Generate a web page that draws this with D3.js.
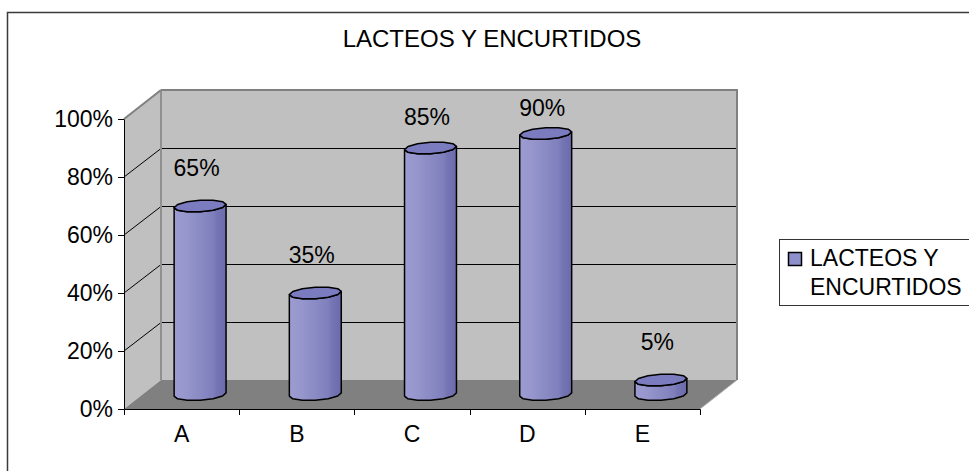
<!DOCTYPE html>
<html>
<head>
<meta charset="utf-8">
<script src="https://cdn.jsdelivr.net/npm/d3@7"></script>
<style>
  html, body { margin: 0; padding: 0; background: #fff; }
  svg { display: block; }
  text { font-family: Arial, "Liberation Sans", sans-serif; fill: #000; }
</style>
</head>
<body>
<svg id="chart" width="969" height="471"></svg>
<script>
// ---- data ----
const categories = ["A", "B", "C", "D", "E"];
const values = [0.65, 0.35, 0.85, 0.90, 0.05];
const yTicks = [0, 0.2, 0.4, 0.6, 0.8, 1.0];
const chartTitle = "LACTEOS Y ENCURTIDOS";
const seriesName = ["LACTEOS Y", "ENCURTIDOS"];

// ---- setup ----
const W = 969, H = 471;
const svg = d3.select("#chart");
const pct = d3.format(".0%");
const FONT = 23;

// front plane of the 3-D box, plus the depth offset of the back wall
const x = d3.scaleBand().domain(categories).range([124, 700]);
const y = d3.scaleLinear().domain([0, 1]).range([409, 119]);
const depth = { dx: 37, dy: -29 };
const mid = { dx: depth.dx / 2, dy: depth.dy / 2 };

const x0 = x.range()[0], x1 = x.range()[1];
const yb = y(0), yt = y(1);

// outer chart frame
svg.append("rect")
  .attr("x", 7.5).attr("y", 12.5)
  .attr("width", W).attr("height", H)
  .attr("fill", "#fff").attr("stroke", "#3a3a3a").attr("stroke-width", 1.5);

// title
svg.append("text")
  .attr("x", 492).attr("y", 47)
  .attr("text-anchor", "middle")
  .attr("font-size", 24)
  .text(chartTitle);

// ---- walls and floor ----
const walls = svg.append("g");
const pts = a => a.map(p => p.join(",")).join(" ");

// back wall
walls.append("polygon")
  .attr("points", pts([
    [x0 + depth.dx, yt + depth.dy], [x1 + depth.dx, yt + depth.dy],
    [x1 + depth.dx, yb + depth.dy], [x0 + depth.dx, yb + depth.dy]]))
  .attr("fill", "#c0c0c0");
// side wall
walls.append("polygon")
  .attr("points", pts([
    [x0, yt], [x0 + depth.dx, yt + depth.dy],
    [x0 + depth.dx, yb + depth.dy], [x0, yb]]))
  .attr("fill", "#c0c0c0");
// floor
walls.append("polygon")
  .attr("points", pts([
    [x0, yb], [x0 + depth.dx, yb + depth.dy],
    [x1 + depth.dx, yb + depth.dy], [x1, yb]]))
  .attr("fill", "#808080");

// gridlines across back wall and side wall
const inner = yTicks.filter(t => t > 0 && t < 1);
walls.selectAll("line.grid-back").data(inner).join("line")
  .attr("class", "grid-back")
  .attr("x1", x0 + depth.dx).attr("x2", x1 + depth.dx)
  .attr("y1", d => Math.round(y(d) + depth.dy) + 0.5)
  .attr("y2", d => Math.round(y(d) + depth.dy) + 0.5)
  .attr("stroke", "#000").attr("stroke-width", 1);
walls.selectAll("line.grid-side").data(inner).join("line")
  .attr("class", "grid-side")
  .attr("x1", x0).attr("y1", d => y(d))
  .attr("x2", x0 + depth.dx).attr("y2", d => Math.round(y(d) + depth.dy) + 0.5)
  .attr("stroke", "#000").attr("stroke-width", 1);

// wall edges
const edge = (a, b, col, w) => walls.append("line")
  .attr("x1", a[0]).attr("y1", a[1]).attr("x2", b[0]).attr("y2", b[1])
  .attr("stroke", col).attr("stroke-width", w);
edge([x0 + depth.dx, yt + depth.dy], [x1 + depth.dx + 1, yt + depth.dy], "#808080", 2);
edge([x1 + depth.dx, yt + depth.dy], [x1 + depth.dx, yb + depth.dy], "#808080", 2);
edge([x0 + depth.dx, yt + depth.dy], [x0 + depth.dx, yb + depth.dy], "#909090", 2);
edge([x0, yt], [x0 + depth.dx, yt + depth.dy], "#808080", 2);
edge([x1, yb], [x1 + depth.dx, yb + depth.dy], "#b0b0b0", 1);

// ---- cylinders ----
const defs = svg.append("defs");
const grad = defs.append("linearGradient").attr("id", "cylBody")
  .attr("x1", "0%").attr("x2", "100%").attr("y1", "0%").attr("y2", "0%");
[[0, "#9c9cd3"], [0.25, "#9696cd"], [0.5, "#8a8ac4"], [0.75, "#7f7fbd"], [0.82, "#7575b4"], [1, "#6b6bad"]]
  .forEach(([o, c]) => grad.append("stop").attr("offset", o).attr("stop-color", c));

const RA = 25, RB = 7, RC = 6;           // ellipse half-axes of the cylinder cross-section
const PHI = Math.atan2(RB, RA);
const N = 12;
const ringPt = (cx, cy, t) => [cx + RA * Math.cos(t) + RB * Math.sin(t), cy - RC * Math.sin(t)];
const line = d3.line();

const bars = svg.append("g");
categories.forEach((c, i) => {
  const v = values[i];
  const cx = x(c) + x.bandwidth() / 2 + mid.dx;
  const cyTop = y(v) + mid.dy;
  const cyBot = y(0) + mid.dy;

  const bottomFront = d3.range(N / 2, N + 1).map(k => ringPt(cx, cyBot, PHI + k * 2 * Math.PI / N));
  const topFront = d3.range(N, N / 2 - 1, -1).map(k => ringPt(cx, cyTop, PHI + k * 2 * Math.PI / N));
  bars.append("path")
    .attr("d", line(bottomFront.concat(topFront)) + "Z")
    .attr("fill", "url(#cylBody)")
    .attr("stroke", "#000").attr("stroke-width", 1.5).attr("stroke-linejoin", "round");

  const ring = d3.range(0, N).map(k => ringPt(cx, cyTop, PHI + k * 2 * Math.PI / N));
  bars.append("path")
    .attr("d", line(ring) + "Z")
    .attr("fill", "#7b7bc0")
    .attr("stroke", "#000").attr("stroke-width", 1.5).attr("stroke-linejoin", "round");

  // value label; labels close to the ceiling are eased downward
  const lift = 30 - 311 * Math.pow(Math.max(0, v - 0.7), 2);
  bars.append("text")
    .attr("x", x(c) + x.bandwidth() / 2 + 15)
    .attr("y", cyTop - lift)
    .attr("text-anchor", "middle")
    .attr("font-size", FONT)
    .text(pct(v));
});

// ---- axes ----
const yAxis = svg.append("g")
  .attr("transform", `translate(${x0},0)`)
  .call(d3.axisLeft(y).tickValues(yTicks).tickFormat(pct).tickSize(6).tickSizeOuter(0).tickPadding(5));
const xAxis = svg.append("g")
  .attr("transform", `translate(0,${yb})`)
  .call(d3.axisBottom(x).tickSize(0).tickSizeOuter(6).tickPadding(17));
xAxis.selectAll(".cat-tick").data(categories.slice(1)).join("line")
  .attr("class", "cat-tick")
  .attr("x1", d => Math.round(x(d)) + 0.5).attr("x2", d => Math.round(x(d)) + 0.5)
  .attr("y1", 0).attr("y2", 6)
  .attr("stroke", "#000");

[yAxis, xAxis].forEach(g => {
  g.selectAll("path.domain").attr("stroke", "#000");
  g.selectAll(".tick line").attr("stroke", "#000");
  g.selectAll("text")
    .attr("font-size", FONT)
    .attr("font-family", "Arial, 'Liberation Sans', sans-serif")
    .attr("fill", "#000");
});

// ---- legend ----
const legend = svg.append("g");
legend.append("rect")
  .attr("x", 779.5).attr("y", 239.5).attr("width", 220).attr("height", 66)
  .attr("fill", "#fff").attr("stroke", "#333").attr("stroke-width", 1);
legend.append("rect")
  .attr("x", 788.5).attr("y", 252.5).attr("width", 13).attr("height", 13)
  .attr("fill", "#8f8fcc").attr("stroke", "#000").attr("stroke-width", 1.5);
legend.selectAll("text.lg").data(seriesName).join("text")
  .attr("class", "lg")
  .attr("x", 810)
  .attr("y", (d, i) => 266 + i * 28.5)
  .attr("font-size", FONT)
  .text(d => d);
</script>
</body>
</html>
